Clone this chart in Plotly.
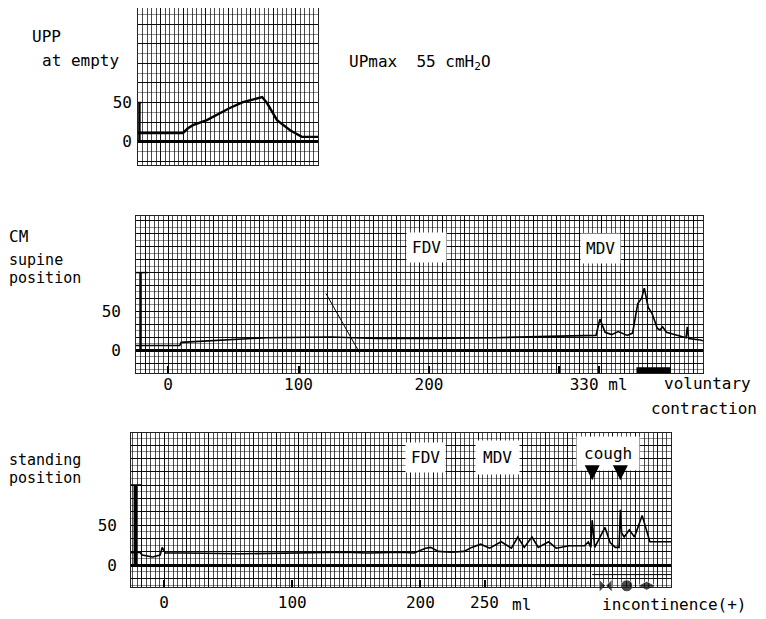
import plotly.graph_objects as go

FONT = "DejaVu Sans Mono"
# page body has an 8px margin: the figure is placed at (8, 8) in the window
OX, OY = 8, 8
W, H = 758, 611

# ---------------- data ----------------
# Panel 1: UPP at empty (x = chart run, arbitrary units; y = cmH2O)
upp_t = [0, 10, 11.1, 12.2, 15.3, 18.2, 20.4, 23.3, 24.9, 27.6, 28.7, 30.9, 33.8, 36.4, 40]
upp_p = [11, 11, 17, 21, 27.5, 36.5, 43, 50.5, 53, 57, 49, 27.5, 14.5, 6, 6]

# Panel 2: CM supine position (x = infused volume ml, y = cmH2O)
sup_ml = [-25, 9, 10, 40, 75, 125, 160, 200, 250, 300, 320, 328, 331, 335, 340, 345, 352,
          356, 360, 363, 365, 368, 371, 375, 377, 379, 382, 390, 397, 398, 399, 408, 410]
sup_p = [6, 6, 10, 13, 16, 17, 15, 15, 16, 18, 19, 19, 40, 23, 20, 24, 19,
         22, 60, 67, 80, 55, 47, 28, 26, 30, 23, 19, 16, 30, 15, 13, 12]
sup_pen_ml = [121, 147]          # stray pen stroke
sup_pen_p = [73, -4]
vol_contraction_ml = [359, 385]  # voluntary contraction marker
vol_contraction_p = [-28, -28]

# Panel 3: CM standing position
std_ml = [-28, -19, -17, -9, -3, -1.5, 1, 15, 60, 132, 140, 159, 185, 195, 204, 208, 214,
          224, 234, 240, 247, 254, 263, 271, 276, 281, 287, 292, 300, 306, 316, 328, 331,
          333, 334, 336, 344, 348, 352, 355, 356, 357, 359, 363, 367, 373, 379, 398]
std_p = [15, 16, 12.5, 10, 12.5, 22, 15, 15, 14, 15, 16, 15, 16, 15, 21, 22, 17,
         16, 17, 22, 26, 21, 29, 21, 35, 22, 35, 22, 29, 21, 24, 24, 29,
         22, 56, 22, 47, 28, 22, 22, 69, 40, 35, 44, 35, 62, 29, 29]
cough_ml = [334, 356]
incont_ml = [344.5, 361, 376.5]
incont_p = [-26, -26, -26]
incont_line_ml = [334, 396]
incont_line_p = [-12, -12]

sup_ticks = [0, 100, 200, 300, 330]
sup_tick_text = ["0", "100", "200", "", "330 ml"]
std_ticks = [0, 100, 200, 250]
std_tick_text = ["0", "100", "200", "250"]
y_ticks = [0, 50]
y_tick_text = ["0", "50"]

# ---------------- layout helpers (window pixel -> paper) ----------------
def clamp(v):
    return min(1.0, max(0.0, v))

def px(x):
    return (x - OX) / W

def py(y):
    return 1 - (y - OY) / H

def xd(a, b):
    return [clamp(px(a)), clamp(px(b))]

def yd(top, bottom):
    return [clamp(py(bottom)), clamp(py(top))]

fig = go.Figure()

line_kw = dict(color="black", width=1.6)
fig.add_trace(go.Scatter(x=upp_t, y=upp_p, mode="lines", line=dict(color="black", width=2.4),
                         xaxis="x", yaxis="y", showlegend=False, hoverinfo="skip"))
fig.add_trace(go.Scatter(x=sup_ml, y=sup_p, mode="lines", line=line_kw,
                         xaxis="x2", yaxis="y2", showlegend=False, hoverinfo="skip"))
fig.add_trace(go.Scatter(x=sup_pen_ml, y=sup_pen_p, mode="lines", line=dict(color="black", width=1),
                         xaxis="x2", yaxis="y2", showlegend=False, hoverinfo="skip"))
fig.add_trace(go.Scatter(x=vol_contraction_ml, y=vol_contraction_p, mode="lines",
                         line=dict(color="black", width=9), cliponaxis=False,
                         xaxis="x2", yaxis="y2", showlegend=False, hoverinfo="skip"))
fig.add_trace(go.Scatter(x=std_ml, y=std_p, mode="lines", line=line_kw,
                         xaxis="x3", yaxis="y3", showlegend=False, hoverinfo="skip"))
fig.add_trace(go.Scatter(x=incont_line_ml, y=incont_line_p, mode="lines",
                         line=dict(color="black", width=1),
                         xaxis="x3", yaxis="y3", showlegend=False, hoverinfo="skip"))
fig.add_trace(go.Scatter(x=incont_ml, y=incont_p, mode="markers", cliponaxis=False,
                         marker=dict(color="black", size=[13, 12, 13],
                                     symbol=["bowtie", "circle", "diamond-wide"]),
                         xaxis="x3", yaxis="y3", showlegend=False, hoverinfo="skip"))

grid_major = "rgba(0,0,0,0.95)"
grid_minor = "rgba(0,0,0,0.7)"

def grid_x(domain, rng, dtick, anchor):
    return dict(domain=domain, range=rng, anchor=anchor, showticklabels=False, ticks="",
                showgrid=True, gridcolor=grid_major, gridwidth=1.3, dtick=dtick * 5, tick0=0,
                minor=dict(dtick=dtick, showgrid=True, gridcolor=grid_minor, gridwidth=1),
                showline=True, linecolor="#222", linewidth=1, mirror=True,
                zeroline=False, fixedrange=True)

def grid_y(domain, rng, dtick, anchor):
    return dict(domain=domain, range=rng, anchor=anchor, showticklabels=False, ticks="",
                showgrid=True, gridcolor=grid_major, gridwidth=1.2, dtick=dtick, tick0=0,
                minor=dict(dtick=dtick / 2, showgrid=True, gridcolor="rgba(0,0,0,0.45)", gridwidth=1),
                zeroline=True, zerolinecolor="black", zerolinewidth=2.5,
                showline=True, linecolor="#222", linewidth=1, mirror=True, fixedrange=True)

x1r, y1r = [0, 40], [-30, 171]
x2r, y2r = [-24.6, 410], [-29.5, 173]
x3r, y3r = [-25.8, 395.5], [-27.5, 165]

lay = dict(
    width=W, height=H, margin=dict(l=0, r=0, t=0, b=0),
    paper_bgcolor="white", plot_bgcolor="white",
    font=dict(family=FONT, size=16, color="black"),
    xaxis=grid_x(xd(138, 318), x1r, 1, "y"),
    yaxis=grid_y(yd(8, 165), y1r, 25, "x"),
    xaxis2=grid_x(xd(136, 703), x2r, 3.5, "y2"),
    yaxis2=grid_y(yd(216, 373), y2r, 50 / 3, "x2"),
    xaxis3=grid_x(xd(131, 671), x3r, 3.5, "y3"),
    yaxis3=grid_y(yd(433, 587), y3r, 50 / 3, "x3"),
    # label axes overlaying the grid axes
    xaxis5=dict(overlaying="x2", anchor="y2", range=x2r, tickmode="array", tickvals=sup_ticks,
                ticktext=sup_tick_text, ticks="inside", ticklen=7, tickwidth=2, tickcolor="black",
                showgrid=False, zeroline=False, showline=False, fixedrange=True),
    xaxis6=dict(overlaying="x3", anchor="y3", range=x3r, tickmode="array", tickvals=std_ticks,
                ticktext=std_tick_text, ticks="inside", ticklen=7, tickwidth=2, tickcolor="black",
                showgrid=False, zeroline=False, showline=False, fixedrange=True, ticklabelstandoff=4),
    yaxis4=dict(overlaying="y", anchor="x", range=y1r, tickmode="array", tickvals=y_ticks,
                ticktext=y_tick_text, ticks="", showgrid=False, zeroline=False, showline=False,
                ticklabelstandoff=5, fixedrange=True),
    yaxis5=dict(overlaying="y2", anchor="x2", range=y2r, tickmode="array", tickvals=y_ticks,
                ticktext=y_tick_text, ticks="", showgrid=False, zeroline=False, showline=False,
                ticklabelstandoff=14, fixedrange=True),
    yaxis6=dict(overlaying="y3", anchor="x3", range=y3r, tickmode="array", tickvals=y_ticks,
                ticktext=y_tick_text, ticks="", showgrid=False, zeroline=False, showline=False,
                ticklabelstandoff=13, fixedrange=True),
)
fig.update_layout(**lay)

# invisible traces so the label axes render
fig.add_trace(go.Scatter(x=[None], y=[None], xaxis="x5", yaxis="y5", showlegend=False))
fig.add_trace(go.Scatter(x=[None], y=[None], xaxis="x6", yaxis="y6", showlegend=False))
fig.add_trace(go.Scatter(x=[None], y=[None], xaxis="x", yaxis="y4", showlegend=False))

# calibration bars
shapes = []
for xr_, yr_, top, w in [("x", "y", 50, 2.5), ("x2", "y2", 100, 2.5), ("x3", "y3", 100, 3.5)]:
    shapes.append(dict(type="line", xref=f"{xr_} domain", yref=yr_, x0=0.008, x1=0.008,
                       y0=0, y1=top, line=dict(color="black", width=w)))
    shapes.append(dict(type="line", xref=f"{xr_} domain", yref=yr_, x0=0.0, x1=0.02,
                       y0=top, y1=top, line=dict(color="black", width=1.5)))
fig.update_layout(shapes=shapes)

ann = []
def txt(t, x, y, anchor="left", size=16):
    ann.append(dict(text=t, x=px(x), y=py(y), xref="paper", yref="paper", xanchor=anchor,
                    yanchor="middle", showarrow=False, font=dict(size=size), borderpad=0))

txt("UPP", 31, 37)
txt("at empty", 41, 61)
txt("UPmax  55 cmH<sub>2</sub>O", 348, 62)
txt("CM", 8, 236)
txt("supine", 8, 260, size=15)
txt("position", 8, 278, size=15)
txt("standing", 8, 460, size=15)
txt("position", 8, 478, size=15)
txt("voluntary", 663, 383)
txt("contraction", 650, 408)
txt("ml", 511, 604)
txt("incontinence(+)", 601, 604)

def box(t, x, y, xr_, yr_, pad=5):
    ann.append(dict(text=t, x=x, y=y, xref=xr_, yref=yr_, showarrow=False, bgcolor="white",
                    borderpad=pad, font=dict(size=16)))

box("FDV", 198, 133, "x2", "y2")
box("MDV", 331.5, 131, "x2", "y2")
box("FDV", 204, 135, "x3", "y3")
box("MDV", 260, 135, "x3", "y3", pad=7)
box("cough", 346, 139, "x3", "y3", pad=7)

for c in cough_ml:
    ann.append(dict(x=c, y=106, xref="x3", yref="y3", text="", showarrow=True,
                    ax=0, ay=-14, arrowhead=2, arrowsize=1, arrowwidth=3, arrowcolor="black"))

fig.update_layout(annotations=ann)
fig.write_html("out.html")
